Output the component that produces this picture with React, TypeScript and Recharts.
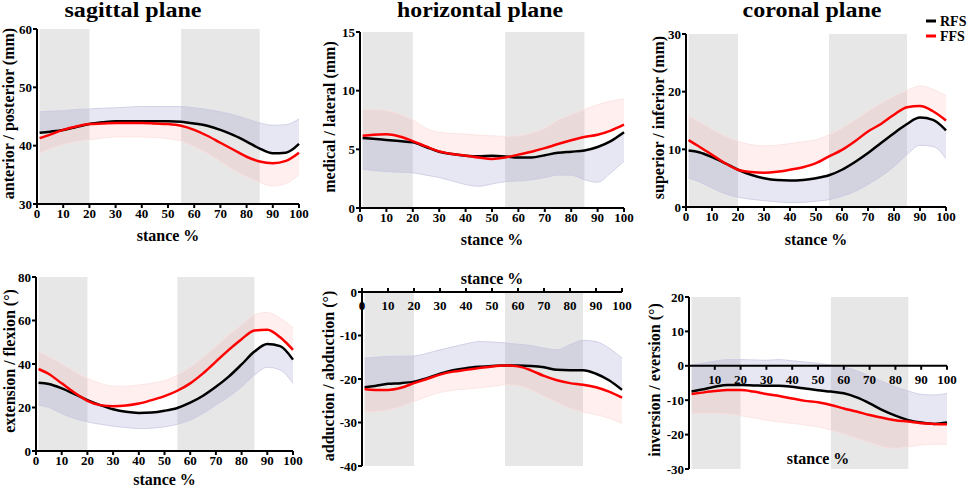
import React from 'react'
import {
  ComposedChart,
  Area,
  Line,
  XAxis,
  YAxis,
  ReferenceArea,
  ReferenceLine,
  Label,
} from 'recharts'

const W = 969
const H = 490
const Y_W = 30
const X_H = 30
const SERIF = '"Liberation Serif", "Times New Roman", Times, serif'

const STANCE = [1, 5, 10, 15, 20, 25, 30, 35, 40, 45, 50, 55, 60, 65, 70, 75, 80, 85, 90, 95, 100]
const X_TICKS = [0, 10, 20, 30, 40, 50, 60, 70, 80, 90, 100]
const SHADED = [
  [1, 20],
  [55, 85],
]

// sagittal plane, anterior / posterior (mm)
const sagRfs = [42.2, 42.4, 42.7, 43.2, 43.7, 44.0, 44.2, 44.2, 44.2, 44.2, 44.2, 44.1, 43.8, 43.4, 42.7, 41.8, 40.7, 39.5, 38.7, 38.8, 40.3]
const sagRfsSd = [45.8, 45.9, 46.0, 46.2, 46.3, 46.4, 46.5, 46.6, 46.7, 46.7, 46.7, 46.7, 46.5, 46.2, 45.8, 45.3, 44.6, 43.9, 43.5, 43.6, 44.6]
const sagFfs = [41.3, 41.9, 42.7, 43.3, 43.7, 43.8, 43.9, 43.9, 43.9, 43.8, 43.7, 43.4, 42.7, 41.7, 40.5, 39.3, 38.1, 37.3, 37.0, 37.4, 38.8]
const sagFfsSd = [38.7, 39.5, 40.2, 40.7, 41.0, 41.3, 41.5, 41.5, 41.5, 41.4, 41.2, 40.8, 39.8, 38.7, 37.3, 35.8, 34.7, 33.7, 33.1, 33.5, 35.0]

// horizontal plane, medical / lateral (mm)
const horRfs = [5.97, 5.9, 5.8, 5.7, 5.6, 5.2, 4.8, 4.6, 4.46, 4.4, 4.45, 4.4, 4.3, 4.3, 4.5, 4.7, 4.8, 4.9, 5.2, 5.7, 6.45]
const horRfsSd = [3.3, 3.2, 3.1, 3.05, 3.0, 2.8, 2.6, 2.3, 2.0, 1.85, 2.05, 2.25, 2.3, 2.4, 2.6, 2.8, 2.8, 2.4, 2.2, 3.0, 4.0]
const horFfs = [6.16, 6.25, 6.28, 6.1, 5.7, 5.25, 4.83, 4.6, 4.46, 4.3, 4.18, 4.3, 4.55, 4.8, 5.1, 5.45, 5.77, 6.05, 6.25, 6.6, 7.1]
const horFfsSd = [8.38, 8.4, 8.3, 8.0, 7.5, 6.8, 6.45, 6.35, 6.3, 6.2, 6.15, 6.1, 6.15, 6.4, 6.8, 7.5, 7.95, 8.4, 8.8, 9.1, 9.3]

// coronal plane, superior / inferior (mm)
const corRfs = [9.8, 9.5, 8.65, 7.6, 6.46, 5.6, 5.0, 4.67, 4.6, 4.7, 5.0, 5.5, 6.46, 7.8, 9.35, 11.1, 12.8, 14.4, 15.5, 15.1, 13.3]
const corRfsSd = [5.0, 4.4, 3.3, 2.3, 1.7, 1.35, 1.1, 0.9, 0.75, 0.8, 1.0, 1.27, 1.85, 2.7, 3.9, 5.3, 7.0, 9.1, 10.7, 10.5, 8.4]
const corFfs = [11.6, 10.5, 9.06, 7.6, 6.46, 6.06, 5.94, 6.1, 6.46, 6.9, 7.6, 8.77, 9.9, 11.4, 13.1, 14.4, 16.0, 17.3, 17.5, 16.6, 15.0]
const corFfsSd = [15.8, 14.8, 13.5, 12.3, 11.4, 10.8, 10.6, 10.7, 11.0, 11.3, 11.65, 12.5, 13.7, 15.1, 16.6, 18.0, 19.2, 20.2, 21.0, 20.4, 19.3]

// extension / flexion (deg)
const flexRfs = [31.4, 30.8, 28.8, 26.2, 23.4, 21.1, 19.2, 18.0, 17.5, 17.7, 18.5, 19.8, 22.2, 25.4, 29.5, 34.2, 39.8, 45.7, 49.2, 48.2, 42.0]
const flexRfsSd = [21.1, 20.0, 17.2, 14.9, 13.4, 12.3, 11.4, 10.8, 10.3, 10.5, 11.1, 12.3, 14.2, 17.2, 21.1, 24.9, 29.5, 34.9, 38.5, 37.2, 31.1]
const flexFfs = [37.7, 35.4, 31.1, 26.8, 23.1, 21.1, 20.6, 20.9, 21.8, 23.4, 25.2, 27.7, 31.1, 35.7, 41.1, 46.5, 51.4, 55.4, 55.7, 52.3, 46.5]
const flexFfsSd = [45.7, 43.4, 40.0, 36.5, 33.4, 31.1, 29.8, 29.8, 30.3, 31.2, 32.3, 34.9, 38.5, 43.1, 48.0, 53.4, 58.0, 62.6, 63.7, 61.1, 56.5]

// adduction / abduction (deg)
const abdRfs = [-21.9, -21.6, -21.1, -20.95, -20.6, -19.8, -18.8, -18.0, -17.5, -17.2, -17.0, -16.9, -16.9, -17.0, -17.3, -17.9, -18.0, -18.0, -18.8, -20.3, -22.5]
const abdRfsSd = [-15.2, -15.0, -14.8, -14.75, -14.7, -14.1, -13.3, -12.6, -11.9, -11.4, -11.5, -11.7, -12.0, -12.3, -12.9, -13.3, -12.1, -11.1, -11.4, -12.9, -15.2]
const abdFfs = [-22.3, -22.5, -22.5, -22.0, -20.95, -20.0, -19.0, -18.3, -17.9, -17.5, -17.1, -16.9, -17.1, -18.0, -19.3, -20.3, -20.95, -21.3, -21.9, -22.9, -24.3]
const abdFfsSd = [-27.5, -27.5, -27.1, -26.3, -25.2, -24.0, -23.1, -22.6, -22.3, -22.0, -21.7, -21.3, -21.5, -22.5, -24.0, -25.4, -26.7, -27.6, -28.2, -29.0, -30.2]

// inversion / eversion (deg)
const invRfs = [-7.5, -6.9, -6.1, -5.6, -5.6, -5.7, -5.8, -5.8, -6.1, -6.6, -7.1, -7.5, -8.0, -9.2, -10.9, -12.9, -14.5, -15.8, -16.5, -16.9, -16.5]
const invRfsSd = [0.2, 0.7, 1.35, 1.8, 1.8, 1.7, 1.6, 1.8, 1.45, 1.1, 0.7, 0.2, -0.3, -1.45, -3.0, -4.6, -6.1, -7.35, -8.3, -8.5, -8.0]
const invFfs = [-8.2, -7.8, -7.35, -7.06, -7.06, -7.5, -8.2, -8.8, -9.5, -10.2, -10.6, -11.4, -12.4, -13.3, -14.3, -15.1, -15.8, -16.2, -16.7, -16.9, -17.0]
const invFfsSd = [-13.8, -13.8, -13.8, -14.0, -14.5, -15.1, -15.8, -16.3, -16.7, -17.2, -17.7, -18.7, -19.8, -21.1, -22.3, -23.5, -24.0, -23.5, -23.0, -22.8, -22.8]

const TICK = { fill: '#000', fontSize: 13, fontWeight: 700, fontFamily: SERIF }
const TITLE = { fill: '#000', fontSize: 16, fontWeight: 700, fontFamily: SERIF }
const AXIS_LINE = { stroke: '#000', strokeWidth: 2 }

function buildRows(rfs: number[], rfsSd: number[], ffs: number[], ffsSd: number[]) {
  return STANCE.map((x, i) => ({
    x,
    rfs: rfs[i],
    ffs: ffs[i],
    rfsBand: [rfs[i], rfsSd[i]],
    ffsBand: [ffs[i], ffsSd[i]],
  }))
}

type PanelProps = {
  rect: [number, number, number, number]
  yDomain: [number, number]
  yTicks: number[]
  yTitle: string
  yTitleX: number
  xTitleY: number
  xAxis: 'bottom' | 'top' | 'zero'
  xTicks: number[]
  rows: ReturnType<typeof buildRows>
}

function InnerTick(props: any) {
  const { x, payload, axisY, up } = props
  return (
    <g>
      <line x1={x} x2={x} y1={axisY} y2={axisY + (up ? -4 : 4)} stroke="#000" strokeWidth={2} />
      <text x={x} y={axisY + 18} textAnchor="middle" {...TICK}>
        {payload.value}
      </text>
    </g>
  )
}

function Panel({ rect, yDomain, yTicks, yTitle, yTitleX, xTitleY, xAxis, xTicks, rows }: PanelProps) {
  const [left, top, right, bottom] = rect
  const [d0, d1] = yDomain
  const zeroY = top + ((d1 - 0) / (d1 - d0)) * (bottom - top)
  const midX = (left + right) / 2
  const midY = (top + bottom) / 2 - 3
  const margin = {
    left: left - Y_W,
    right: W - right,
    top: xAxis === 'top' ? top - X_H : top,
    bottom: xAxis === 'top' ? H - bottom : H - bottom - X_H,
  }

  return (
    <div style={{ position: 'absolute', left: 0, top: 0 }}>
      <ComposedChart width={W} height={H} data={rows} margin={margin}>
        {SHADED.map(([a, b]) => (
          <ReferenceArea key={a} x1={a} x2={b} fill="#e7e7e7" fillOpacity={1} stroke="none" />
        ))}
        <XAxis
          type="number"
          dataKey="x"
          domain={[0, 100]}
          ticks={xTicks}
          interval={0}
          orientation={xAxis === 'top' ? 'top' : 'bottom'}
          height={X_H}
          axisLine={xAxis === 'zero' ? false : AXIS_LINE}
          tickLine={xAxis === 'bottom' ? AXIS_LINE : false}
          tickSize={4}
          tickMargin={1}
          tick={
            xAxis === 'bottom' ? TICK : <InnerTick axisY={xAxis === 'top' ? top : zeroY} up={xAxis === 'top'} />
          }
        >
          <Label
            content={() => (
              <text x={midX} y={xTitleY} textAnchor="middle" {...TITLE}>
                stance %
              </text>
            )}
          />
        </XAxis>
        <YAxis
          type="number"
          domain={yDomain}
          ticks={yTicks}
          interval={0}
          width={Y_W}
          axisLine={AXIS_LINE}
          tickLine={AXIS_LINE}
          tickSize={4}
          tickMargin={1}
          tick={TICK}
        >
          <Label
            content={() => (
              <text
                x={yTitleX}
                y={midY}
                textAnchor="middle"
                transform={`rotate(-90 ${yTitleX} ${midY})`}
                {...TITLE}
              >
                {yTitle}
              </text>
            )}
          />
        </YAxis>
        {xAxis === 'zero' && <ReferenceLine y={0} stroke="#000" strokeWidth={2} />}
        <Area
          type="monotone"
          dataKey="rfsBand"
          stroke="#c8c8e2"
          strokeWidth={0.8}
          fill="#7878c0"
          fillOpacity={0.18}
          isAnimationActive={false}
        />
        <Area
          type="monotone"
          dataKey="ffsBand"
          stroke="#fbe0e0"
          strokeWidth={0.8}
          fill="#ff5050"
          fillOpacity={0.09}
          isAnimationActive={false}
        />
        <Line type="monotone" dataKey="rfs" stroke="#000" strokeWidth={2.5} dot={false} isAnimationActive={false} />
        <Line type="monotone" dataKey="ffs" stroke="#ff0000" strokeWidth={2.5} dot={false} isAnimationActive={false} />
      </ComposedChart>
    </div>
  )
}

export default function App() {
  return (
    <div style={{ position: 'absolute', left: 0, top: 0, width: W, height: H, background: '#fff', overflow: 'hidden' }}>
      <Panel
        rect={[37, 29, 299, 204]}
        yDomain={[30, 60]}
        yTicks={[30, 40, 50, 60]}
        yTitle="anterior / posterior (mm)"
        yTitleX={14}
        xTitleY={241}
        xAxis="bottom"
        xTicks={X_TICKS}
        rows={buildRows(sagRfs, sagRfsSd, sagFfs, sagFfsSd)}
      />
      <Panel
        rect={[360, 32, 624, 208]}
        yDomain={[0, 15]}
        yTicks={[0, 5, 10, 15]}
        yTitle="medical / lateral (mm)"
        yTitleX={335}
        xTitleY={245}
        xAxis="bottom"
        xTicks={X_TICKS}
        rows={buildRows(horRfs, horRfsSd, horFfs, horFfsSd)}
      />
      <Panel
        rect={[686, 34, 946, 207]}
        yDomain={[0, 30]}
        yTicks={[0, 10, 20, 30]}
        yTitle="superior / inferior (mm)"
        yTitleX={664}
        xTitleY={245}
        xAxis="bottom"
        xTicks={X_TICKS}
        rows={buildRows(corRfs, corRfsSd, corFfs, corFfsSd)}
      />
      <Panel
        rect={[36, 277, 293, 451]}
        yDomain={[0, 80]}
        yTicks={[0, 20, 40, 60, 80]}
        yTitle="extension / flexion (°)"
        yTitleX={15}
        xTitleY={485}
        xAxis="bottom"
        xTicks={X_TICKS}
        rows={buildRows(flexRfs, flexRfsSd, flexFfs, flexFfsSd)}
      />
      <Panel
        rect={[362, 292, 622, 466]}
        yDomain={[-40, 0]}
        yTicks={[-40, -30, -20, -10, 0]}
        yTitle="adduction / abduction (°)"
        yTitleX={334}
        xTitleY={284}
        xAxis="top"
        xTicks={X_TICKS}
        rows={buildRows(abdRfs, abdRfsSd, abdFfs, abdFfsSd)}
      />
      <Panel
        rect={[689, 297, 947, 469]}
        yDomain={[-30, 20]}
        yTicks={[-30, -20, -10, 0, 10, 20]}
        yTitle="inversion / eversion (°)"
        yTitleX={660}
        xTitleY={464}
        xAxis="zero"
        xTicks={X_TICKS.slice(1)}
        rows={buildRows(invRfs, invRfsSd, invFfs, invFfsSd)}
      />
      <svg width={W} height={H} style={{ position: 'absolute', left: 0, top: 0, pointerEvents: 'none' }}>
        <g fontFamily={SERIF} fontWeight={700} fontSize={20} fill="#000" textAnchor="middle" lengthAdjust="spacingAndGlyphs">
          <text x={133} y={17} textLength={137} lengthAdjust="spacingAndGlyphs">sagittal plane</text>
          <text x={480} y={17} textLength={166} lengthAdjust="spacingAndGlyphs">horizontal plane</text>
          <text x={812} y={17} textLength={139} lengthAdjust="spacingAndGlyphs">coronal plane</text>
        </g>
        <line x1={926} x2={936} y1={21} y2={21} stroke="#000" strokeWidth={3} />
        <line x1={926} x2={936} y1={36} y2={36} stroke="#ff0000" strokeWidth={3} />
        <g fontFamily={SERIF} fontWeight={700} fontSize={14} fill="#000">
          <text x={940} y={26}>RFS</text>
          <text x={940} y={41}>FFS</text>
        </g>
      </svg>
    </div>
  )
}
